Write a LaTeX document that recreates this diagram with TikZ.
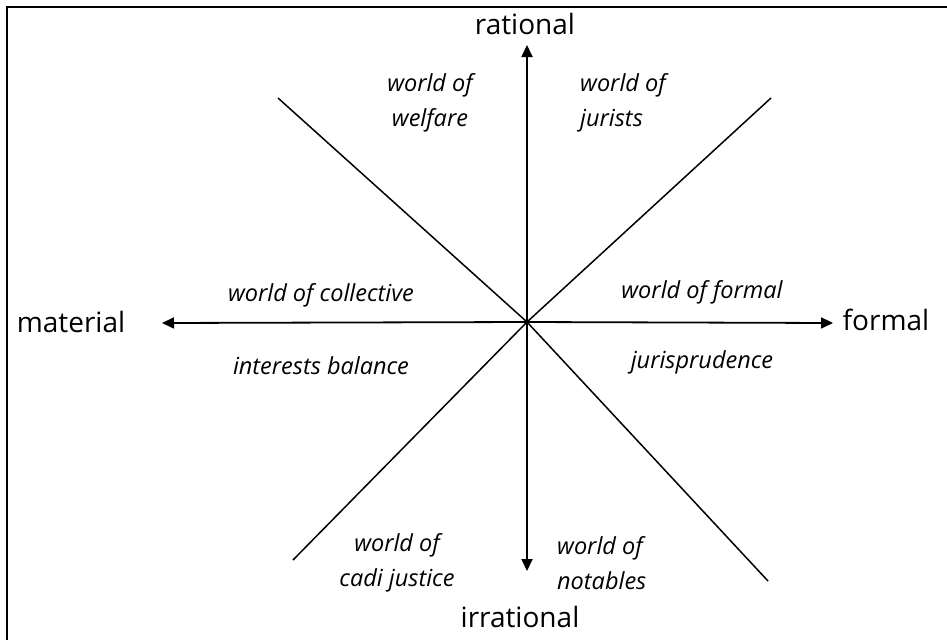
\documentclass[tikz,border=0pt]{standalone}
\usepackage{fontspec}
\setmainfont{Open Sans}
\usetikzlibrary{arrows.meta}
\begin{document}
\begin{tikzpicture}[x=1pt,y=-1pt,
  axis/.style={line width=1.8pt,-{Triangle[length=12pt,width=11pt]}},
  diag/.style={line width=1.5pt},
  pole/.style={font=\fontsize{28}{32}\selectfont,inner sep=0pt},
  world/.style={font=\fontsize{23.5}{35}\selectfont\itshape,inner sep=0pt},
  frameline/.style={line width=2.5pt}]
\useasboundingbox (0,0) rectangle (947,640);
\coordinate (tl) at (7,7);
\coordinate (tr) at (947,7);
\coordinate (bl) at (7,640);
\draw[frameline] (tr) -- (tl) -- (bl);
\coordinate (c) at (527,322);
\coordinate (up) at (527,45);
\coordinate (dn) at (527,571);
\coordinate (lf) at (162,323);
\coordinate (rt) at (833,323);
\coordinate (ul) at (278,98);
\coordinate (ur) at (771,98);
\coordinate (ll) at (293,560);
\coordinate (lr) at (768,581);
\draw[diag] (c) -- (ul);
\draw[diag] (c) -- (ur);
\draw[diag] (c) -- (ll);
\draw[diag] (c) -- (lr);
\draw[axis] (c) -- (up);
\draw[axis] (c) -- (dn);
\draw[axis] (c) -- (lf);
\draw[axis] (c) -- (rt);
\node[pole] (rat) at (525,24) {rational};
\node[pole] (irr) at (520,617) {irrational};
\node[pole] (mat) at (71,322) {material};
\node[pole] (for) at (886,320) {formal};
\node[world,align=center] (wel) at (430,103) {world of\\welfare};
\node[world,align=left,anchor=west] (jur) at (580,103) {world of\\jurists};
\node[world] (col) at (321,295) {world of collective};
\node[world] (bal) at (321,366) {interests balance};
\node[world] (fml) at (702,292) {world of formal};
\node[world] (jpr) at (702,362) {jurisprudence};
\node[world,align=center] (cad) at (397,563) {world of\\cadi justice};
\node[world,align=left,anchor=west] (not) at (557,563) {world of\\notables};
\end{tikzpicture}
\end{document}
